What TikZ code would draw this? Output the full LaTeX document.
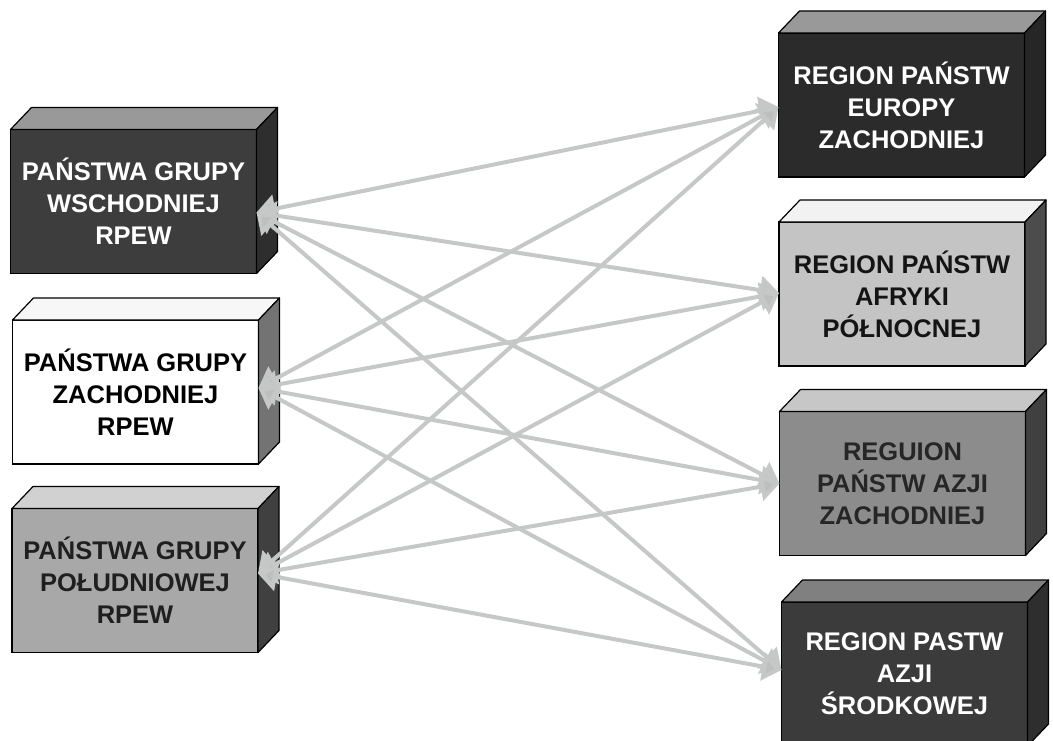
\documentclass[tikz,border=0pt]{standalone}
\usepackage{fontspec}
\setmainfont{Liberation Sans}
\usetikzlibrary{arrows.meta}
\definecolor{linkgray}{HTML}{C6C8C8}
\definecolor{headgray}{HTML}{BDBFBF}
\tikzset{
  frontface/.style={draw=black, line width=1.4pt, rectangle, inner sep=0pt, outer sep=0pt,
    minimum width=246pt, minimum height=144pt, align=center,
    font=\fontsize{25.5}{32}\selectfont\bfseries},
  face/.style={draw=black, line width=1.2pt, line join=round},
  link/.style={{Triangle[length=19pt,width=28pt,fill=headgray]}-{Triangle[length=19pt,width=28pt,fill=headgray]},
    draw=linkgray, line width=4pt}
}
\newcommand\mkfaces[3]{%
  \draw[face, fill=#2] (#1.north west) -- (#1.north east)
     -- ([shift={(21,-22)}]#1.north east) -- ([shift={(21,-22)}]#1.north west) -- cycle;
  \draw[face, fill=#3] (#1.north east) -- (#1.south east)
     -- ([shift={(21,-22)}]#1.south east) -- ([shift={(21,-22)}]#1.north east) -- cycle;
}
\begin{document}
\begin{tikzpicture}[x=1pt, y=-1pt]
\useasboundingbox (0,0) rectangle (1053,741);
\clip (0,0) rectangle (1053,741);
\fill[white] (0,0) rectangle (1053,741);

% front faces
\node[frontface, fill=black!76, text=white]    (L1) at (133.5,201.5) {PAŃSTWA GRUPY\\WSCHODNIEJ\\RPEW};
\node[frontface, fill=white, text=black]       (L2) at (135.5,392)   {PAŃSTWA GRUPY\\ZACHODNIEJ\\RPEW};
\node[frontface, fill=black!34, text=black!88] (L3) at (135,580.5)   {PAŃSTWA GRUPY\\POŁUDNIOWEJ\\RPEW};
\node[frontface, fill=black!83, text=white]    (R1) at (901.5,105)   {REGION PAŃSTW\\EUROPY\\ZACHODNIEJ};
\node[frontface, fill=black!23, text=black!92] (R2) at (902,294)     {REGION PAŃSTW\\AFRYKI\\PÓŁNOCNEJ};
\node[frontface, fill=black!45, text=black!85] (R3) at (902.5,483.5) {REGUION\\PAŃSTW AZJI\\ZACHODNIEJ};
\node[frontface, fill=black!77, text=white]    (R4) at (904.5,674)   {REGION PASTW\\AZJI\\ŚRODKOWEJ};

% top and side faces
\mkfaces{L1}{black!40}{black!82}
\mkfaces{L2}{black!3}{black!55}
\mkfaces{L3}{black!18}{black!75}
\mkfaces{R1}{black!40}{black!85}
\mkfaces{R2}{black!5}{black!70}
\mkfaces{R3}{black!22}{black!75}
\mkfaces{R4}{black!50}{black!82}

% connectors
\foreach \l/\ly in {L1/-11, L2/4, L3/7}{
  \foreach \r/\ry in {R1/-2, R2/1, R3/0, R4/4}{
    \draw[link] ([yshift=\ly pt]\l.east) -- ([yshift=\ry pt]\r.west);
  }
}
\end{tikzpicture}
\end{document}
